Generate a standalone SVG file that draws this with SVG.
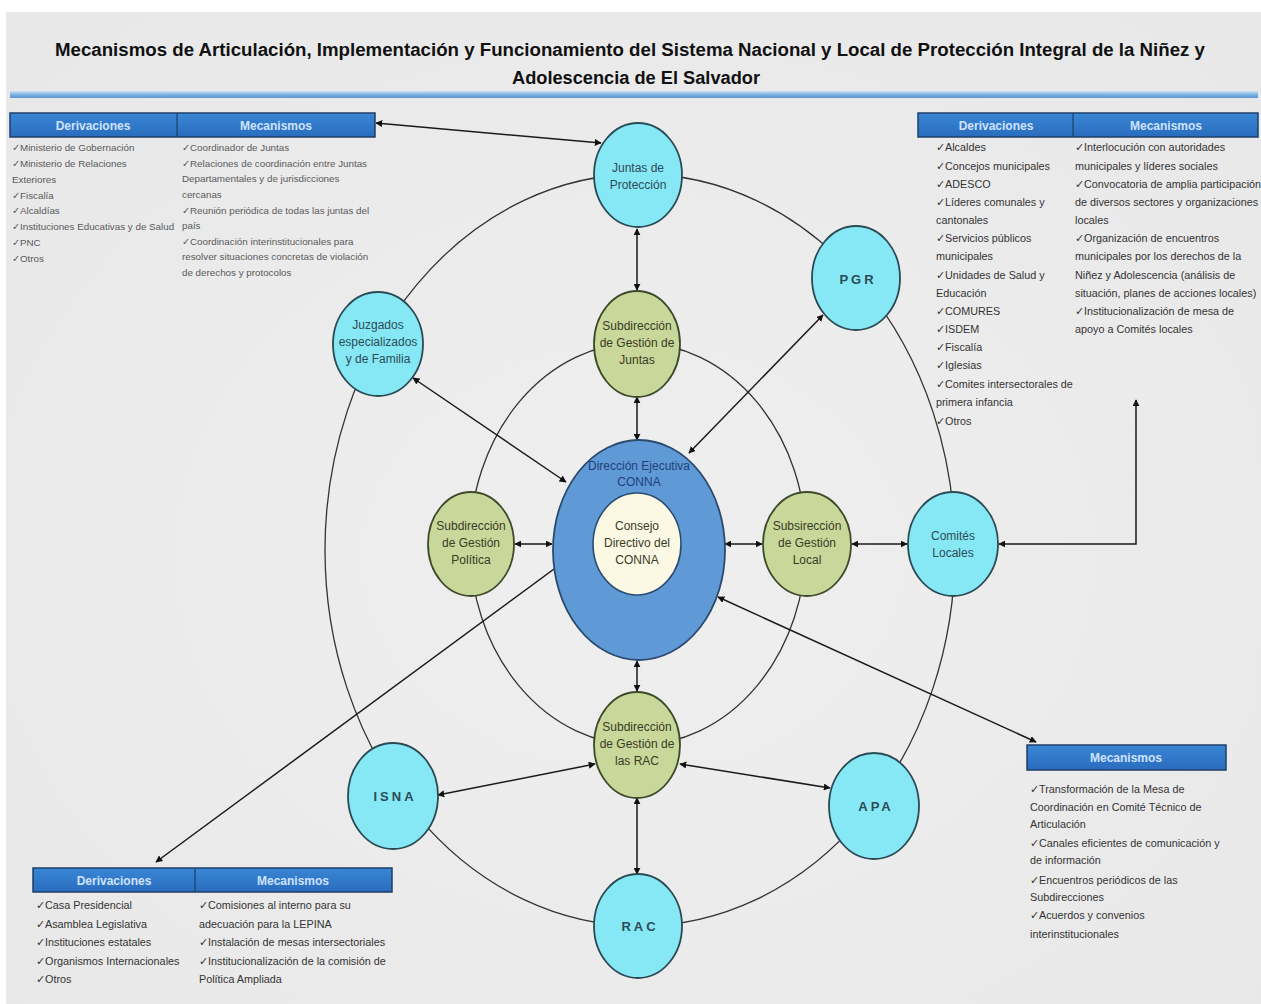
<svg xmlns="http://www.w3.org/2000/svg" width="1261" height="1004" viewBox="0 0 1261 1004">
<defs>
<linearGradient id="bar" x1="0" y1="0" x2="0" y2="1"><stop offset="0" stop-color="#cfe2f3"/><stop offset="0.5" stop-color="#7fb2e2"/><stop offset="1" stop-color="#5a96d2"/></linearGradient>
<linearGradient id="hdr" x1="0" y1="0" x2="0" y2="1"><stop offset="0" stop-color="#3a86d6"/><stop offset="1" stop-color="#2a6cbd"/></linearGradient>
<radialGradient id="bg" cx="0.5" cy="0.55" r="0.7"><stop offset="0" stop-color="#efefef"/><stop offset="1" stop-color="#e8e8e8"/></radialGradient>
<marker id="ah" viewBox="0 0 10 10" refX="9" refY="5" markerWidth="7" markerHeight="7" orient="auto-start-reverse" markerUnits="userSpaceOnUse"><path d="M0,0 L10,5 L0,10 z" fill="#111"/></marker>
</defs>
<style>
.ttl{font-family:"Liberation Sans",Arial,sans-serif;font-weight:bold;font-size:18px;fill:#111;}
.hdr{fill:url(#hdr);stroke:#1d3f66;stroke-width:1.5;}
.hdt{font-family:"Liberation Sans",Arial,sans-serif;font-weight:bold;font-size:12px;fill:#cfe3ff;text-anchor:middle;}
.t9{font-family:"Liberation Sans",Arial,sans-serif;font-size:9.8px;fill:#5a5a5a;}
.t10{font-family:"Liberation Sans",Arial,sans-serif;font-size:10.8px;fill:#333;}
.ring{fill:none;stroke:#333;stroke-width:1.3;}
.cy{fill:#86e8f4;stroke:#2b4a55;stroke-width:1.8;}
.gr{fill:#c9d79a;stroke:#3d4a2a;stroke-width:1.8;}
.nt{font-family:"Liberation Sans",Arial,sans-serif;font-size:12px;fill:#2c4b58;text-anchor:middle;}
.ng{font-family:"Liberation Sans",Arial,sans-serif;font-size:12px;fill:#3a3a26;text-anchor:middle;}
.sp{font-family:"Liberation Sans",Arial,sans-serif;font-size:13px;font-weight:bold;fill:#2c4b58;text-anchor:middle;letter-spacing:3px;}
.con{fill:none;stroke:#1a1a1a;stroke-width:1.5;marker-start:url(#ah);marker-end:url(#ah);}
</style>
<rect x="0" y="0" width="1261" height="1004" fill="#ffffff"/>
<rect x="6" y="12" width="1255" height="992" fill="url(#bg)"/>
<g id="title">
<text class="ttl" x="630" y="56" text-anchor="middle" textLength="1150" lengthAdjust="spacingAndGlyphs">Mecanismos de Articulación, Implementación y Funcionamiento del Sistema Nacional y Local de Protección Integral de la Niñez y</text>
<text class="ttl" x="636" y="84" text-anchor="middle" textLength="248" lengthAdjust="spacingAndGlyphs">Adolescencia de El Salvador</text>
<rect x="10" y="91" width="1248" height="7" fill="url(#bar)"/>
</g>
<g id="rings">
<ellipse class="ring" cx="640" cy="550" rx="315" ry="376"/>
<ellipse class="ring" cx="638" cy="544" rx="168" ry="201"/>
</g>
<g id="connectors">
<line class="con" x1="376" y1="123" x2="601" y2="143"/>
<line class="con" x1="637" y1="229" x2="637" y2="290"/>
<line class="con" x1="637" y1="397" x2="637" y2="440"/>
<line class="con" x1="413" y1="378" x2="566" y2="482"/>
<line class="con" x1="823" y1="315" x2="689" y2="453"/>
<line class="con" x1="515" y1="544" x2="552" y2="544"/>
<line class="con" x1="725" y1="544" x2="762" y2="544"/>
<line class="con" x1="852" y1="544" x2="907" y2="544"/>
<polyline class="con" points="1136,400 1136,544 999,544"/>
<line class="con" x1="718" y1="597" x2="1036" y2="742"/>
<line class="con" x1="156" y1="862" x2="588" y2="544"/>
<line class="con" x1="637" y1="661" x2="637" y2="691"/>
<line class="con" x1="438" y1="795" x2="595" y2="764"/>
<line class="con" x1="680" y1="764" x2="830" y2="788"/>
<line class="con" x1="637" y1="798" x2="637" y2="874"/>
</g>
<g id="node-juntas"><ellipse class="cy" cx="638" cy="175" rx="44" ry="52"/><text class="nt" x="638" y="172">Juntas de</text><text class="nt" x="638" y="189">Protección</text></g>
<g id="node-pgr"><ellipse class="cy" cx="856" cy="278" rx="44" ry="52"/><text class="sp" x="858" y="284">PGR</text></g>
<g id="node-juzgados"><ellipse class="cy" cx="378" cy="344" rx="45" ry="52"/><text class="nt" x="378" y="329">Juzgados</text><text class="nt" x="378" y="346">especializados</text><text class="nt" x="378" y="363">y de Familia</text></g>
<g id="node-sub-juntas"><ellipse class="gr" cx="637" cy="344" rx="43" ry="53"/><text class="ng" x="637" y="330">Subdirección</text><text class="ng" x="637" y="347">de Gestión de</text><text class="ng" x="637" y="364">Juntas</text></g>
<g id="node-direccion"><ellipse cx="639" cy="550" rx="86" ry="110" fill="#5f9ad6" stroke="#2b4a6e" stroke-width="1.8"/><text class="nt" x="639" y="470" style="fill:#1f3f7a">Dirección Ejecutiva</text><text class="nt" x="639" y="486" style="fill:#1f3f7a">CONNA</text></g>
<g id="node-consejo"><ellipse cx="637" cy="544" rx="44" ry="51" fill="#fbf9e4" stroke="#2b4a6e" stroke-width="1.6"/><text class="ng" x="637" y="530">Consejo</text><text class="ng" x="637" y="547">Directivo del</text><text class="ng" x="637" y="564">CONNA</text></g>
<g id="node-sub-politica"><ellipse class="gr" cx="471" cy="544" rx="43" ry="52"/><text class="ng" x="471" y="530">Subdirección</text><text class="ng" x="471" y="547">de Gestión</text><text class="ng" x="471" y="564">Política</text></g>
<g id="node-sub-local"><ellipse class="gr" cx="807" cy="544" rx="44" ry="52"/><text class="ng" x="807" y="530">Subsirección</text><text class="ng" x="807" y="547">de Gestión</text><text class="ng" x="807" y="564">Local</text></g>
<g id="node-comites"><ellipse class="cy" cx="953" cy="544" rx="45" ry="52"/><text class="nt" x="953" y="540">Comités</text><text class="nt" x="953" y="557">Locales</text></g>
<g id="node-sub-rac"><ellipse class="gr" cx="637" cy="745" rx="43" ry="53"/><text class="ng" x="637" y="731">Subdirección</text><text class="ng" x="637" y="748">de Gestión de</text><text class="ng" x="637" y="765">las RAC</text></g>
<g id="node-isna"><ellipse class="cy" cx="393" cy="796" rx="45" ry="53"/><text class="sp" x="395" y="801">ISNA</text></g>
<g id="node-apa"><ellipse class="cy" cx="874" cy="806" rx="45" ry="53"/><text class="sp" x="876" y="811">APA</text></g>
<g id="node-rac"><ellipse class="cy" cx="638" cy="926" rx="44" ry="52"/><text class="sp" x="640" y="931">RAC</text></g>
<g id="table-top-left">
<rect class="hdr" x="10" y="113" width="365" height="24"/><line x1="177" y1="113" x2="177" y2="137" stroke="#1d3f66" stroke-width="1.2"/>
<text class="hdt" x="93" y="130">Derivaciones</text><text class="hdt" x="276" y="130">Mecanismos</text>
<text class="t9" x="12" y="151">✓Ministerio de Gobernación</text>
<text class="t9" x="12" y="167">✓Ministerio de Relaciones</text>
<text class="t9" x="12" y="183">Exteriores</text>
<text class="t9" x="12" y="199">✓Fiscalía</text>
<text class="t9" x="12" y="214">✓Alcaldías</text>
<text class="t9" x="12" y="230">✓Instituciones Educativas y de Salud</text>
<text class="t9" x="12" y="246">✓PNC</text>
<text class="t9" x="12" y="262">✓Otros</text>
<text class="t9" x="182" y="151">✓Coordinador de Juntas</text>
<text class="t9" x="182" y="167">✓Relaciones de coordinación entre Juntas</text>
<text class="t9" x="182" y="182">Departamentales y de jurisdicciones</text>
<text class="t9" x="182" y="198">cercanas</text>
<text class="t9" x="182" y="214">✓Reunión periódica de todas las juntas del</text>
<text class="t9" x="182" y="229">país</text>
<text class="t9" x="182" y="245">✓Coordinación interinstitucionales para</text>
<text class="t9" x="182" y="260">resolver situaciones concretas de violación</text>
<text class="t9" x="182" y="276">de derechos y protocolos</text>
</g>
<g id="table-top-right">
<rect class="hdr" x="918" y="113" width="340" height="24"/><line x1="1073" y1="113" x2="1073" y2="137" stroke="#1d3f66" stroke-width="1.2"/>
<text class="hdt" x="996" y="130">Derivaciones</text><text class="hdt" x="1166" y="130">Mecanismos</text>
<text class="t10" x="936" y="151">✓Alcaldes</text>
<text class="t10" x="936" y="170">✓Concejos municipales</text>
<text class="t10" x="936" y="188">✓ADESCO</text>
<text class="t10" x="936" y="206">✓Líderes comunales y</text>
<text class="t10" x="936" y="224">cantonales</text>
<text class="t10" x="936" y="242">✓Servicios públicos</text>
<text class="t10" x="936" y="260">municipales</text>
<text class="t10" x="936" y="279">✓Unidades de Salud y</text>
<text class="t10" x="936" y="297">Educación</text>
<text class="t10" x="936" y="315">✓COMURES</text>
<text class="t10" x="936" y="333">✓ISDEM</text>
<text class="t10" x="936" y="351">✓Fiscalía</text>
<text class="t10" x="936" y="369">✓Iglesias</text>
<text class="t10" x="936" y="388">✓Comites intersectorales de</text>
<text class="t10" x="936" y="406">primera infancia</text>
<text class="t10" x="936" y="425">✓Otros</text>
<text class="t10" x="1075" y="151">✓Interlocución con autoridades</text>
<text class="t10" x="1075" y="170">municipales y líderes sociales</text>
<text class="t10" x="1075" y="188">✓Convocatoria de amplia participación</text>
<text class="t10" x="1075" y="206">de diversos sectores y organizaciones</text>
<text class="t10" x="1075" y="224">locales</text>
<text class="t10" x="1075" y="242">✓Organización de encuentros</text>
<text class="t10" x="1075" y="260">municipales por los derechos de la</text>
<text class="t10" x="1075" y="279">Niñez y Adolescencia (análisis de</text>
<text class="t10" x="1075" y="297">situación, planes de acciones locales)</text>
<text class="t10" x="1075" y="315">✓Institucionalización de mesa de</text>
<text class="t10" x="1075" y="333">apoyo a Comités locales</text>
</g>
<g id="table-bottom-left">
<rect class="hdr" x="33" y="868" width="359" height="24"/><line x1="195" y1="868" x2="195" y2="892" stroke="#1d3f66" stroke-width="1.2"/>
<text class="hdt" x="114" y="885">Derivaciones</text><text class="hdt" x="293" y="885">Mecanismos</text>
<text class="t10" x="36" y="909">✓Casa Presidencial</text>
<text class="t10" x="36" y="928">✓Asamblea Legislativa</text>
<text class="t10" x="36" y="946">✓Instituciones estatales</text>
<text class="t10" x="36" y="965">✓Organismos Internacionales</text>
<text class="t10" x="36" y="983">✓Otros</text>
<text class="t10" x="199" y="909">✓Comisiones al interno para su</text>
<text class="t10" x="199" y="928">adecuación para  la LEPINA</text>
<text class="t10" x="199" y="946">✓Instalación de mesas intersectoriales</text>
<text class="t10" x="199" y="965">✓Institucionalización de la comisión de</text>
<text class="t10" x="199" y="983">Política Ampliada</text>
</g>
<g id="table-bottom-right">
<rect class="hdr" x="1027" y="745" width="199" height="25"/>
<text class="hdt" x="1126" y="762">Mecanismos</text>
<text class="t10" x="1030" y="793">✓Transformación de la Mesa de</text>
<text class="t10" x="1030" y="811">Coordinación en Comité Técnico de</text>
<text class="t10" x="1030" y="828">Articulación</text>
<text class="t10" x="1030" y="847">✓Canales eficientes de comunicación y</text>
<text class="t10" x="1030" y="864">de información</text>
<text class="t10" x="1030" y="884">✓Encuentros periódicos de las</text>
<text class="t10" x="1030" y="901">Subdirecciones</text>
<text class="t10" x="1030" y="919">✓Acuerdos y convenios</text>
<text class="t10" x="1030" y="938">interinstitucionales</text>
</g>
</svg>
